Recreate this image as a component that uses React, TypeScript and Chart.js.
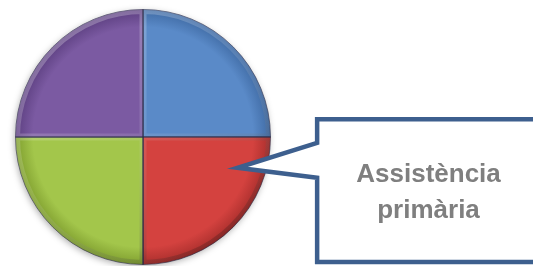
import React, { useEffect, useRef } from "react";
import { Chart, registerables } from "chart.js";

Chart.register(...registerables);

const categories = ["Sector A", "Assistència primària", "Sector C", "Sector D"];
const values = [25, 25, 25, 25];
const sliceColors = ["#5a8ac8", "#d4423f", "#a3c64b", "#7b5aa2"];
const rimColors = ["#3f6aa3", "#a82e2c", "#7f9e2f", "#5c3f80"];
const calloutLines = ["Assistència", "primària"];
const calloutIndex = 1;

const bevelPlugin = {
  id: "bevel",
  beforeDatasetsDraw(chart: any) {
    const meta = chart.getDatasetMeta(0);
    const a = meta.data[0];
    if (!a) return;
    const ctx = chart.ctx;
    ctx.save();
    ctx.shadowColor = "rgba(0,0,0,0.35)";
    ctx.shadowBlur = 7;
    ctx.shadowOffsetX = -1;
    ctx.shadowOffsetY = 2;
    ctx.fillStyle = "#ffffff";
    ctx.beginPath();
    ctx.arc(a.x, a.y, a.outerRadius - 0.5, 0, Math.PI * 2);
    ctx.fill();
    ctx.restore();
  },
  afterDatasetsDraw(chart: any) {
    const meta = chart.getDatasetMeta(0);
    const ctx = chart.ctx;
    meta.data.forEach((arc: any) => {
      const { x, y, outerRadius, startAngle, endAngle } = arc;
      ctx.save();
      ctx.beginPath();
      ctx.moveTo(x, y);
      ctx.arc(x, y, outerRadius, startAngle, endAngle);
      ctx.closePath();
      ctx.clip();
      const g = ctx.createLinearGradient(x - outerRadius, y - outerRadius, x + outerRadius * 0.4, y + outerRadius);
      g.addColorStop(0, "rgba(255,255,255,0.32)");
      g.addColorStop(0.5, "rgba(255,255,255,0.12)");
      g.addColorStop(1, "rgba(0,0,0,0.22)");
      ctx.strokeStyle = g;
      ctx.lineWidth = 7;
      ctx.beginPath();
      ctx.moveTo(x, y);
      ctx.arc(x, y, outerRadius - 1, startAngle, endAngle);
      ctx.closePath();
      ctx.stroke();
      ctx.restore();
    });
    meta.data.forEach((arc: any) => {
      const { x, y, outerRadius, startAngle } = arc;
      ctx.save();
      ctx.strokeStyle = "rgba(40,40,70,0.75)";
      ctx.lineWidth = 1.2;
      ctx.beginPath();
      ctx.moveTo(x, y);
      ctx.lineTo(x + Math.cos(startAngle) * outerRadius, y + Math.sin(startAngle) * outerRadius);
      ctx.stroke();
      ctx.restore();
    });
  },
};

const calloutPlugin = {
  id: "callout",
  afterDraw(chart: any) {
    const meta = chart.getDatasetMeta(0);
    const arc = meta.data[calloutIndex];
    if (!arc) return;
    const ctx = chart.ctx;
    const W = chart.width;
    const H = chart.height;
    const ang = arc.startAngle + 0.2 * (arc.endAngle - arc.startAngle);
    const tipX = arc.x + Math.cos(ang) * arc.outerRadius * 0.78;
    const tipY = arc.y + Math.sin(ang) * arc.outerRadius * 0.78;
    const left = W * 0.595;
    const top = H * 0.448;
    const bottom = H * 0.985;
    const right = W + 10;
    const p1 = H * 0.537;
    const p2 = H * 0.668;
    ctx.save();
    ctx.beginPath();
    ctx.moveTo(left, top);
    ctx.lineTo(right, top);
    ctx.lineTo(right, bottom);
    ctx.lineTo(left, bottom);
    ctx.lineTo(left, p2);
    ctx.lineTo(tipX, tipY);
    ctx.lineTo(left, p1);
    ctx.closePath();
    ctx.fillStyle = "#ffffff";
    ctx.fill();
    ctx.lineWidth = 4.5;
    ctx.lineJoin = "miter";
    ctx.strokeStyle = "#3d5f8e";
    ctx.stroke();
    ctx.fillStyle = "#7f7f7f";
    ctx.font = "bold 26px 'Liberation Sans', Arial, sans-serif";
    ctx.textAlign = "center";
    ctx.textBaseline = "alphabetic";
    const cx = W * 0.804;
    ctx.fillText(calloutLines[0], cx, H * 0.683);
    ctx.fillText(calloutLines[1], cx, H * 0.821);
    ctx.restore();
  },
};

export default function App() {
  const ref = useRef<HTMLCanvasElement>(null);
  useEffect(() => {
    document.body.style.margin = "0";
    const canvas = ref.current!;
    const chart = new Chart(canvas, {
      type: "pie",
      data: {
        labels: categories,
        datasets: [
          {
            data: values,
            borderWidth: 1,
            borderColor: "rgba(40,40,70,0.6)",
            backgroundColor: (c: any) => {
              const ch = c.chart;
              const area = ch.chartArea;
              const i = c.dataIndex;
              if (!area) return sliceColors[i];
              const cx = (area.left + area.right) / 2;
              const cy = (area.top + area.bottom) / 2;
              const r = Math.min(area.right - area.left, area.bottom - area.top) / 2;
              const g = ch.ctx.createRadialGradient(cx, cy, 0, cx, cy, r);
              g.addColorStop(0, sliceColors[i]);
              g.addColorStop(0.86, sliceColors[i]);
              g.addColorStop(1, rimColors[i]);
              return g;
            },
          },
        ],
      },
      options: {
        animation: false,
        responsive: false,
        maintainAspectRatio: false,
        layout: { padding: { left: 14, right: 261, top: 9, bottom: 1 } },
        plugins: { legend: { display: false }, tooltip: { enabled: false } },
      },
      plugins: [bevelPlugin, calloutPlugin],
    });
    return () => chart.destroy();
  }, []);
  return (
    <div style={{ width: 533, height: 266, background: "#fff" }}>
      <canvas ref={ref} width={533} height={266} style={{ display: "block" }} />
    </div>
  );
}
